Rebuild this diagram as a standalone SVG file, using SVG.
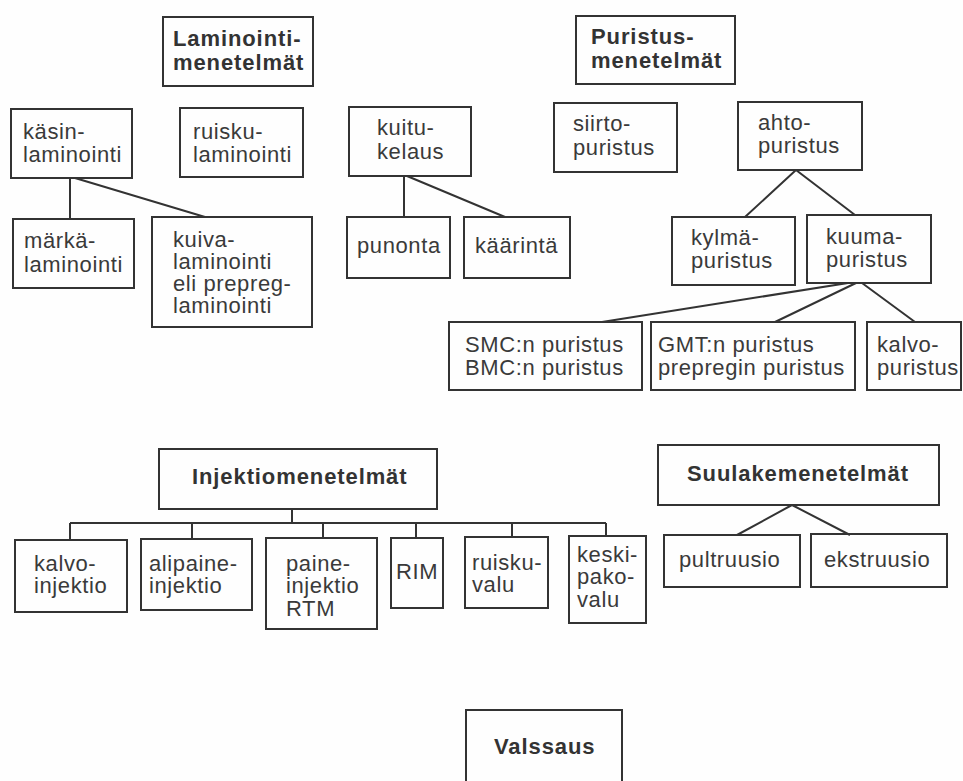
<svg xmlns="http://www.w3.org/2000/svg" width="963" height="781" viewBox="0 0 963 781">
  <style>
    .box { fill: none; stroke: #333; stroke-width: 2; }
    .t { font-family: "Liberation Sans", Arial, Helvetica, sans-serif; font-size: 22px; letter-spacing: 0.6px; fill: #3a3a3a; }
    .h { font-family: "Liberation Sans", Arial, Helvetica, sans-serif; font-size: 22px; font-weight: bold; letter-spacing: 0.9px; fill: #333; }
    .link { fill: none; stroke: #333; stroke-width: 2; }
  </style>
  <rect width="963" height="781" fill="#fefefe"/>

  <!-- connectors -->
  <g id="connectors" class="link">
    <path d="M70 178 V219 M75 178 L205 217"/>
    <path d="M404 176 V217 M407 176 L505 217"/>
    <path d="M796 170 L745 217 M796 170 L855 215"/>
    <path d="M848 283 L602 322 M856 283 L775 322 M862 283 L915 322"/>
    <path d="M292 509 V523 M70 523 H606 M70 523 V540 M192 523 V539 M323 523 V538 M416 523 V538 M512 523 V537 M606 523 V536"/>
    <path d="M792 505 L737 535 M792 505 L850 535"/>
  </g>

  <!-- lamination -->
  <g id="laminointi">
    <rect class="box" x="163" y="17" width="150" height="69"/>
    <text class="h" x="173" y="46">Laminointi-</text>
    <text class="h" x="173" y="70">menetelmät</text>
  </g>
  <g id="kasinlaminointi">
    <rect class="box" x="11" y="109" width="121" height="69"/>
    <text class="t" x="23" y="139">käsin-</text>
    <text class="t" x="23" y="162">laminointi</text>
  </g>
  <g id="ruiskulaminointi">
    <rect class="box" x="180" y="108" width="123" height="69"/>
    <text class="t" x="193" y="139">ruisku-</text>
    <text class="t" x="193" y="162">laminointi</text>
  </g>
  <g id="markalaminointi">
    <rect class="box" x="13" y="219" width="121" height="69"/>
    <text class="t" x="24" y="248">märkä-</text>
    <text class="t" x="24" y="272">laminointi</text>
  </g>
  <g id="kuivalaminointi">
    <rect class="box" x="152" y="217" width="160" height="110"/>
    <text class="t" x="173" y="247">kuiva-</text>
    <text class="t" x="173" y="269">laminointi</text>
    <text class="t" x="173" y="291">eli prepreg-</text>
    <text class="t" x="173" y="313">laminointi</text>
  </g>

  <!-- filament winding -->
  <g id="kuitukelaus">
    <rect class="box" x="349" y="107" width="122" height="69"/>
    <text class="t" x="377" y="135">kuitu-</text>
    <text class="t" x="377" y="159">kelaus</text>
  </g>
  <g id="punonta">
    <rect class="box" x="347" y="217" width="103" height="61"/>
    <text class="t" x="357" y="253">punonta</text>
  </g>
  <g id="kaarinta">
    <rect class="box" x="464" y="217" width="106" height="61"/>
    <text class="t" x="475" y="253">käärintä</text>
  </g>

  <!-- compression -->
  <g id="puristus">
    <rect class="box" x="576" y="16" width="159" height="68"/>
    <text class="h" x="591" y="44">Puristus-</text>
    <text class="h" x="591" y="68">menetelmät</text>
  </g>
  <g id="siirtopuristus">
    <rect class="box" x="554" y="103" width="123" height="69"/>
    <text class="t" x="573" y="131">siirto-</text>
    <text class="t" x="573" y="155">puristus</text>
  </g>
  <g id="ahtopuristus">
    <rect class="box" x="738" y="102" width="124" height="68"/>
    <text class="t" x="758" y="130">ahto-</text>
    <text class="t" x="758" y="153">puristus</text>
  </g>
  <g id="kylmapuristus">
    <rect class="box" x="672" y="217" width="123" height="68"/>
    <text class="t" x="691" y="245">kylmä-</text>
    <text class="t" x="691" y="268">puristus</text>
  </g>
  <g id="kuumapuristus">
    <rect class="box" x="807" y="215" width="124" height="68"/>
    <text class="t" x="826" y="244">kuuma-</text>
    <text class="t" x="826" y="267">puristus</text>
  </g>
  <g id="smcbmc">
    <rect class="box" x="449" y="322" width="193" height="68"/>
    <text class="t" x="465" y="352">SMC:n puristus</text>
    <text class="t" x="465" y="375">BMC:n puristus</text>
  </g>
  <g id="gmtprepreg">
    <rect class="box" x="651" y="322" width="204" height="68"/>
    <text class="t" x="658" y="352">GMT:n puristus</text>
    <text class="t" x="658" y="375">prepregin puristus</text>
  </g>
  <g id="kalvopuristus">
    <rect class="box" x="867" y="322" width="94" height="68"/>
    <text class="t" x="877" y="352">kalvo-</text>
    <text class="t" x="877" y="375">puristus</text>
  </g>

  <!-- injection -->
  <g id="injektio">
    <rect class="box" x="159" y="449" width="278" height="60"/>
    <text class="h" x="192" y="484">Injektiomenetelmät</text>
  </g>
  <g id="kalvoinjektio">
    <rect class="box" x="15" y="540" width="112" height="72"/>
    <text class="t" x="34" y="571">kalvo-</text>
    <text class="t" x="34" y="593">injektio</text>
  </g>
  <g id="alipaineinjektio">
    <rect class="box" x="141" y="539" width="111" height="71"/>
    <text class="t" x="149" y="571">alipaine-</text>
    <text class="t" x="149" y="593">injektio</text>
  </g>
  <g id="paineinjektio">
    <rect class="box" x="266" y="538" width="111" height="91"/>
    <text class="t" x="286" y="571">paine-</text>
    <text class="t" x="286" y="593">injektio</text>
    <text class="t" x="286" y="616">RTM</text>
  </g>
  <g id="rim">
    <rect class="box" x="391" y="538" width="52" height="70"/>
    <text class="t" x="396" y="579">RIM</text>
  </g>
  <g id="ruiskuvalu">
    <rect class="box" x="465" y="537" width="83" height="71"/>
    <text class="t" x="472" y="570">ruisku-</text>
    <text class="t" x="472" y="592">valu</text>
  </g>
  <g id="keskipakovalu">
    <rect class="box" x="569" y="536" width="77" height="87"/>
    <text class="t" x="577" y="562">keski-</text>
    <text class="t" x="577" y="584">pako-</text>
    <text class="t" x="577" y="607">valu</text>
  </g>

  <!-- extrusion -->
  <g id="suulake">
    <rect class="box" x="658" y="445" width="281" height="60"/>
    <text class="h" x="687" y="481">Suulakemenetelmät</text>
  </g>
  <g id="pultruusio">
    <rect class="box" x="664" y="535" width="136" height="52"/>
    <text class="t" x="679" y="567">pultruusio</text>
  </g>
  <g id="ekstruusio">
    <rect class="box" x="811" y="534" width="136" height="53"/>
    <text class="t" x="824" y="567">ekstruusio</text>
  </g>

  <!-- rolling -->
  <g id="valssaus">
    <rect class="box" x="466" y="710" width="156" height="80"/>
    <text class="h" x="494" y="754">Valssaus</text>
  </g>
</svg>
